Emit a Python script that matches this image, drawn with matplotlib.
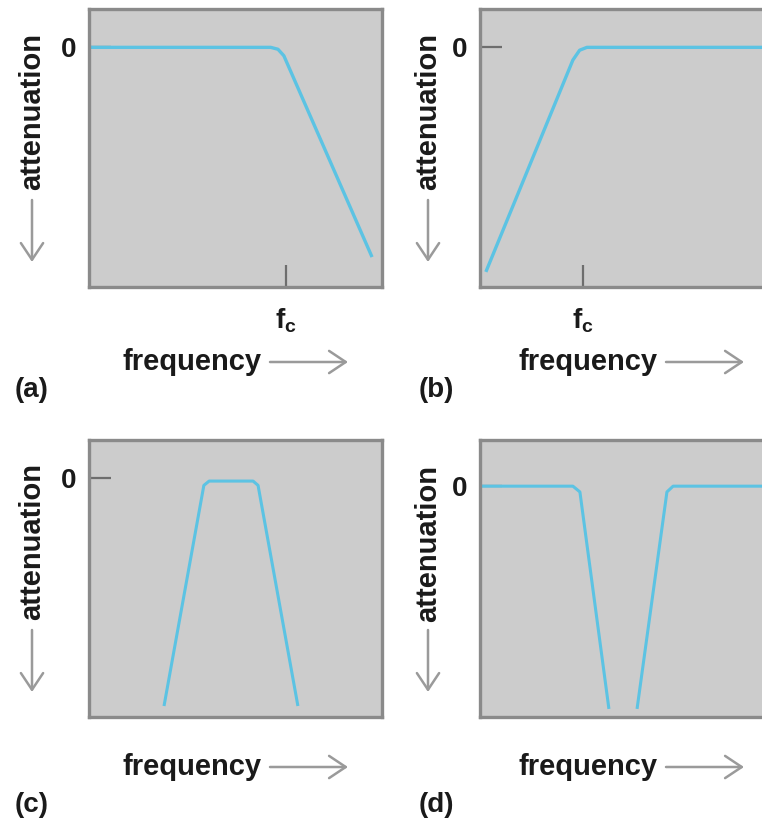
import matplotlib.pyplot as plt
from matplotlib.patches import FancyArrowPatch

plt.rcParams['font.family'] = ['Liberation Sans', 'DejaVu Sans']
plt.rcParams['mathtext.fontset'] = 'custom'
plt.rcParams['mathtext.bf'] = 'Liberation Sans:bold'
plt.rcParams['mathtext.rm'] = 'Liberation Sans:bold'

# filter responses (attenuation vs frequency, arbitrary units)
lowpass_x = [0, 6.2, 6.45, 6.65, 9.66]
lowpass_y = [0, 0, -0.08, -0.35, -8.75]
lowpass_fc = 6.72

highpass_x = [0.2, 3.17, 3.4, 3.65, 10.5]
highpass_y = [-9.37, -0.53, -0.12, 0, 0]
highpass_fc = 3.52

bandpass_x = [2.56, 3.92, 4.10, 5.60, 5.77, 7.13]
bandpass_y = [-9.54, -0.3, -0.12, -0.12, -0.3, -9.54]

notch_left_x = [0, 3.17, 3.41, 4.40]
notch_left_y = [0, 0, -0.25, -9.65]
notch_right_x = [5.36, 6.38, 6.59, 10.5]
notch_right_y = [-9.65, -0.25, 0, 0]

panel_labels = ['(a)', '(b)', '(c)', '(d)']

W, H = 762, 823
fig = plt.figure(figsize=(W / 100, H / 100), dpi=100)

line_color = '#5cc3e3'
bg = '#cccccc'
frame = '#8a8a8a'
txt = '#1a1a1a'
arrow_c = '#9a9a9a'


def fx(px):
    return px / W


def fy(py):
    return 1 - py / H


def make_ax(left, top, bottom, ymax):
    ax = fig.add_axes([fx(left), fy(bottom), 293 / W, (bottom - top) / H])
    ax.set_facecolor(bg)
    ax.set_xlim(0, 10)
    ax.set_ylim(-10, ymax)
    for s in ax.spines.values():
        s.set_color(frame)
        s.set_linewidth(2.4)
    ax.tick_params(direction='in', length=16, width=1.6, color='#6e6e6e',
                   labelsize=20, labelcolor=txt)
    ax.set_yticks([0])
    ax.set_yticklabels(['0'], fontweight='bold')
    ax.tick_params(axis='y', pad=9)
    ax.set_xticks([])
    return ax


def arrow(p0, p1):
    fig.add_artist(FancyArrowPatch((fx(p0[0]), fy(p0[1])), (fx(p1[0]), fy(p1[1])),
                                   transform=fig.transFigure,
                                   arrowstyle='->,head_length=0.6,head_width=0.4',
                                   mutation_scale=20, color=arrow_c, lw=1.8,
                                   shrinkA=0, shrinkB=0))


def decorate(xl, ytop, ybot, label_y):
    # attenuation label with down arrow
    fig.text(fx(xl), fy(ytop), 'attenuation', rotation=90, ha='center', va='center',
             fontsize=21, fontweight='bold', color=txt)
    arrow((xl, ybot), (xl, ybot + 62))
    # frequency label with right arrow
    fig.text(fx(xl + 160), fy(label_y), 'frequency', ha='center', va='center',
             fontsize=21, fontweight='bold', color=txt)
    arrow((xl + 238, label_y), (xl + 316, label_y))


# (a) low-pass
ax = make_ax(89, 9, 287, 1.6)
ax.plot(lowpass_x, lowpass_y, color=line_color, lw=2.4, solid_capstyle='butt')
ax.set_xticks([lowpass_fc])
ax.set_xticklabels([r'$\mathbf{f_c}$'])
ax.tick_params(axis='x', pad=14)

# (b) high-pass
ax = make_ax(480, 9, 287, 1.6)
ax.plot(highpass_x, highpass_y, color=line_color, lw=2.4, solid_capstyle='butt')
ax.set_xticks([highpass_fc])
ax.set_xticklabels([r'$\mathbf{f_c}$'])
ax.tick_params(axis='x', pad=14)

# (c) band-pass
ax = make_ax(89, 440, 717, 1.6)
ax.plot(bandpass_x, bandpass_y, color=line_color, lw=2.2, solid_capstyle='butt')

# (d) notch
ax = make_ax(480, 440, 717, 2.0)
ax.plot(notch_left_x, notch_left_y, color=line_color, lw=2.2, solid_capstyle='butt')
ax.plot(notch_right_x, notch_right_y, color=line_color, lw=2.2, solid_capstyle='butt')

decorate(32, 112, 200, 362)
decorate(428, 112, 200, 362)
decorate(32, 541, 630, 767)
decorate(428, 543, 630, 767)

for (x, y), lab in zip([(32, 390), (436, 390), (32, 805), (436, 805)], panel_labels):
    fig.text(fx(x), fy(y), lab, ha='center', va='center', fontsize=20,
             fontweight='bold', color=txt)

fig.savefig('out.png', dpi=100)
